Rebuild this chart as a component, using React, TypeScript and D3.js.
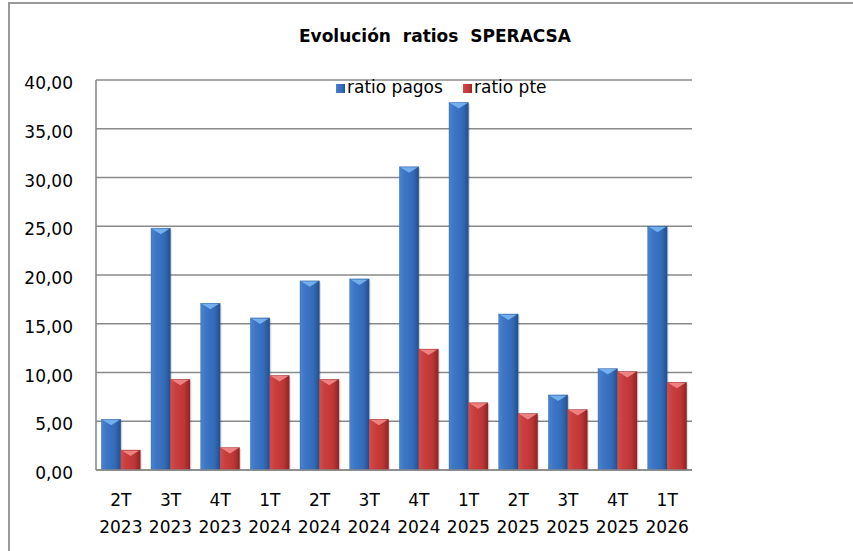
import React from "react";
import * as d3 from "d3";

const categories = ["2T 2023", "3T 2023", "4T 2023", "1T 2024", "2T 2024", "3T 2024", "4T 2024", "1T 2025", "2T 2025", "3T 2025", "4T 2025", "1T 2026"];
const ratioPagos = [5.2, 24.8, 17.1, 15.6, 19.4, 19.6, 31.1, 37.7, 16.0, 7.7, 10.4, 25.0];
const ratioPte = [2.05, 9.3, 2.3, 9.7, 9.3, 5.2, 12.4, 6.9, 5.8, 6.2, 10.1, 9.0];
const yTicks = [0, 5, 10, 15, 20, 25, 30, 35, 40];
const seriesNames = ["ratio pagos", "ratio pte"];
const title = "Evolución  ratios  SPERACSA";

const W = 853, H = 551;
const left = 96, right = 692, top = 80, bottom = 470;
const FONT = "'DejaVu Sans', sans-serif";

const fmt = (v: number) => v.toFixed(2).replace(".", ",");

export default function App() {
  const x = d3.scaleBand<string>().domain(categories).range([left, right]).padding(0);
  const y = d3.scaleLinear().domain([0, 40]).range([bottom, top]);
  const bw = 19.5;

  const bar = (v: number, i: number, s: number) => {
    const cx = (x(categories[i]) as number) + x.bandwidth() / 2;
    const bx = cx - bw + s * bw;
    const by = y(v);
    const h = y(0) - by;
    const grad = s === 0 ? "url(#gBlue)" : "url(#gRed)";
    const hi = s === 0 ? "#7ab6f2" : "#f28a8a";
    return (
      <g key={`${s}-${i}`}>
        <rect x={bx + 1.5} y={by + 1.5} width={bw} height={h - 1.5} fill="#000" opacity={0.12} />
        <rect x={bx} y={by} width={bw} height={h} fill={grad} />
        <polygon
          points={`${bx + 1},${by + 0.5} ${bx + bw - 1},${by + 0.5} ${bx + bw / 2},${by + Math.min(6, h)}`}
          fill={hi}
          opacity={0.9}
        />
        <rect x={bx} y={by} width={bw} height={h} fill="none" stroke={s === 0 ? "#2f5f9f" : "#9e2f2f"} strokeWidth={0.6} strokeOpacity={0.6} />
      </g>
    );
  };

  return (
    <svg width={W} height={H} style={{ position: "absolute", left: 0, top: 0, display: "block", background: "#fff" }}>
      <defs>
        <linearGradient id="gBlue" x1="0" x2="1" y1="0" y2="0">
          <stop offset="0" stopColor="#4a84d0" />
          <stop offset="0.25" stopColor="#3d76c6" />
          <stop offset="0.7" stopColor="#336bb8" />
          <stop offset="1" stopColor="#234f8c" />
        </linearGradient>
        <linearGradient id="gRed" x1="0" x2="1" y1="0" y2="0">
          <stop offset="0" stopColor="#d44d4b" />
          <stop offset="0.25" stopColor="#c93f3e" />
          <stop offset="0.7" stopColor="#bd3635" />
          <stop offset="1" stopColor="#8e2424" />
        </linearGradient>
      </defs>
      <rect x={9} y={3} width={852} height={560} fill="#fff" stroke="#999" strokeWidth={2} />
      <text x={435} y={42} textAnchor="middle" fontFamily={FONT} fontWeight="bold" fontSize={17} fill="#000" style={{ whiteSpace: "pre" }}>
        {title}
      </text>
      {yTicks.map((t) => (
        <g key={t}>
          <line x1={left} x2={right} y1={y(t)} y2={y(t)} stroke="#8a8a8a" strokeWidth={1.6} />
          <text x={73} y={y(t) + 9} textAnchor="end" fontFamily={FONT} fontSize={17} fill="#000">
            {fmt(t)}
          </text>
        </g>
      ))}
      <line x1={left} x2={left} y1={top} y2={bottom} stroke="#8a8a8a" strokeWidth={1.6} />
      {ratioPagos.map((v, i) => bar(v, i, 0))}
      {ratioPte.map((v, i) => bar(v, i, 1))}
      <line x1={left} x2={right} y1={bottom} y2={bottom} stroke="#8a8a8a" strokeWidth={1.6} />
      {categories.map((c) => {
        const [a, b] = c.split(" ");
        const cx = (x(c) as number) + x.bandwidth() / 2;
        return (
          <text key={c} x={cx} textAnchor="middle" fontFamily={FONT} fontSize={17} fill="#000">
            <tspan x={cx} y={506}>{a}</tspan>
            <tspan x={cx} y={533}>{b}</tspan>
          </text>
        );
      })}
      <g>
        <rect x={336} y={84} width={9} height={9} fill="url(#gBlue)" />
        <text x={347} y={93} fontFamily={FONT} fontSize={17} fill="#000">{seriesNames[0]}</text>
        <rect x={463} y={84} width={9} height={9} fill="url(#gRed)" />
        <text x={474} y={93} fontFamily={FONT} fontSize={17} fill="#000">{seriesNames[1]}</text>
      </g>
    </svg>
  );
}
